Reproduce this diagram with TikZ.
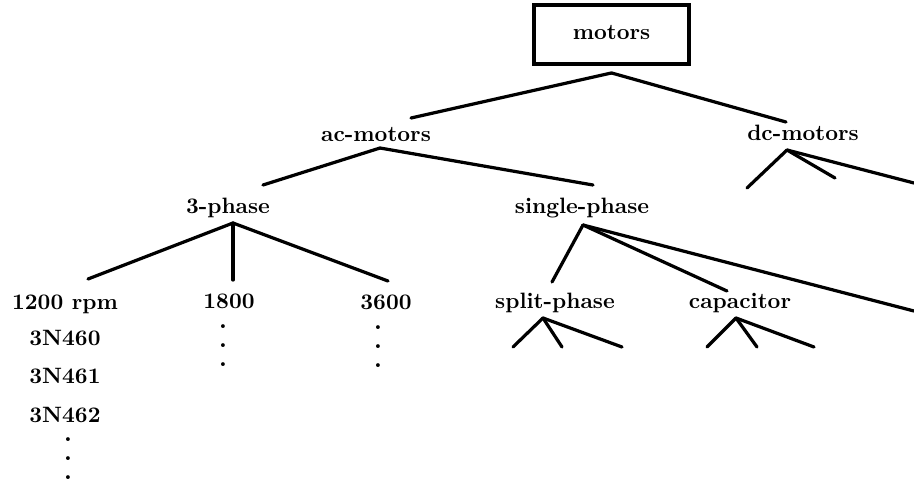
\documentclass[tikz,border=0pt]{standalone}
\usepackage{tikz}
\usetikzlibrary{positioning}
\newcommand{\colvdots}{\vbox{\baselineskip=8.55pt\lineskiplimit=-10pt\hbox{.}\hbox{.}\hbox{.}}}

\begin{document}
\begin{tikzpicture}[x=0.45pt, y=-0.45pt, font=\bfseries,
    lbl/.style={anchor=base},
    edg/.style={line width=1.45pt, line cap=round},
    dotnode/.style={inner sep=0pt, font=\bfseries\large}]
    \useasboundingbox (0,0) rectangle (914,482);
    \node[draw=black, line width=1.8pt, minimum width=69.75pt, minimum height=26.5pt, text depth=1.5pt] (root) at (611.5,34.5) {motors};
    \node[lbl] (ac)   at (376,141) {ac-motors};
    \node[lbl] (dc)   at (803,140) {dc-motors};
    \node[lbl] (tp)   at (228,213) {3-phase};
    \node[lbl] (sp)   at (582,213) {single-phase};
    \node[lbl] (r12)  at (65,309)  {1200 rpm};
    \node[lbl] (r18)  at (229,308) {1800};
    \node[lbl] (r36)  at (386,309) {3600};
    \node[lbl] (spl)  at (555,308) {split-phase};
    \node[lbl] (cap)  at (740,308) {capacitor};
    \node[lbl] (n460) at (65,345)  {3N460};
    \node[lbl] (n461) at (65,383)  {3N461};
    \node[lbl] (n462) at (65,422)  {3N462};
    \node[dotnode] (d18)  at (223,346) {\colvdots};
    \node[dotnode] (d36)  at (378,347) {\colvdots};
    \node[dotnode] (d12)  at (68,459)  {\colvdots};
    \coordinate (dc1) at (747,188);
    \coordinate (dc2) at (835,178);
    \coordinate (dc3) at (914,183);
    \coordinate (sp3) at (914,311);
    \coordinate (spl1) at (513,347);
    \coordinate (spl2) at (562,347);
    \coordinate (spl3) at (622,347);
    \coordinate (cap1) at (707,347);
    \coordinate (cap2) at (757,347);
    \coordinate (cap3) at (814,347);
    \path[edg] ([shift={(0,7)}]root.south) edge ([shift={(35,-23)}]ac.base)
                                          edge ([shift={(-17,-18)}]dc.base);
    \path[edg] ([shift={(4,7)}]ac.base) edge ([shift={(35,-28)}]tp.base)
                                       edge ([shift={(11,-28)}]sp.base);
    \path[edg] ([shift={(5,10)}]tp.base) edge ([shift={(23,-30)}]r12.base)
                                        edge ([shift={(4,-28)}]r18.base)
                                        edge ([shift={(2,-28)}]r36.base);
    \path[edg] ([shift={(1,12)}]sp.base) edge ([shift={(-3,-26)}]spl.base)
                                        edge ([shift={(-13,-17)}]cap.base)
                                        edge (sp3);
    \path[edg] ([shift={(-16,10)}]dc.base) edge (dc1) edge (dc2) edge (dc3);
    \path[edg] ([shift={(-12,10)}]spl.base) edge (spl1) edge (spl2) edge (spl3);
    \path[edg] ([shift={(-4,10)}]cap.base) edge (cap1) edge (cap2) edge (cap3);
\end{tikzpicture}
\end{document}
